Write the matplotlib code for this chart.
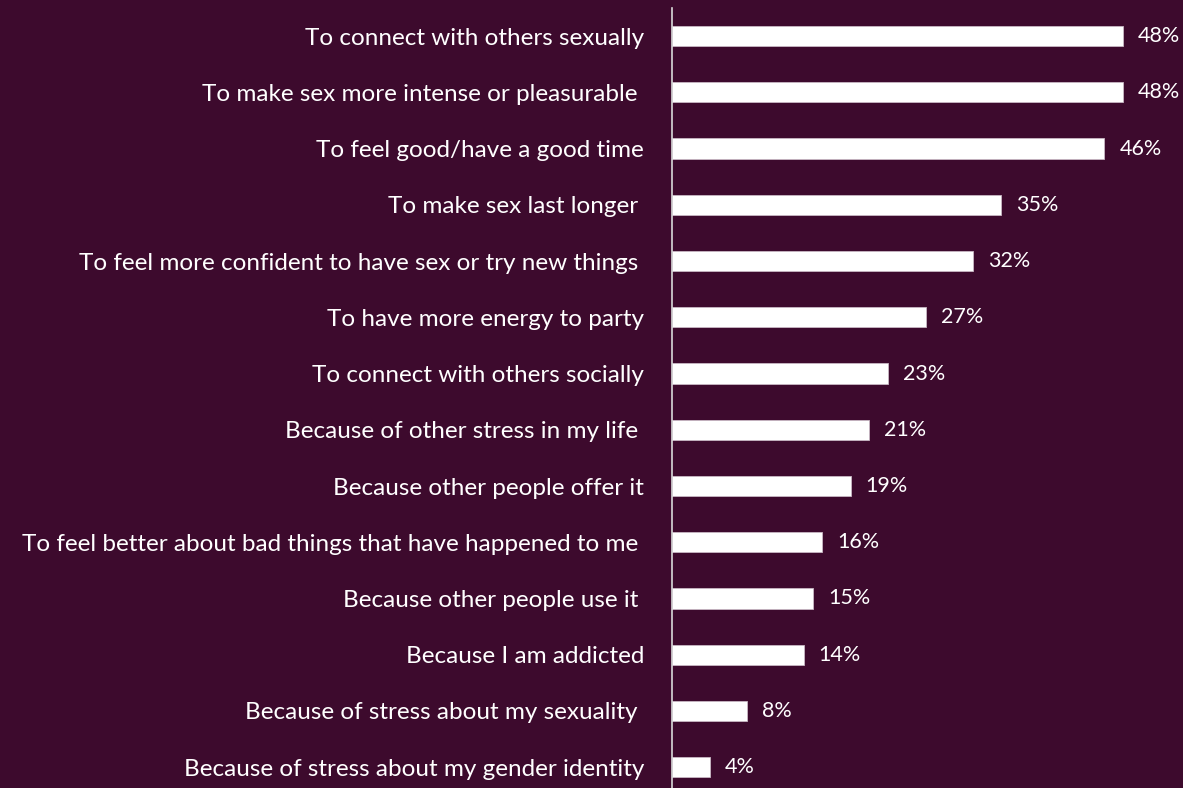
import matplotlib
matplotlib.use("Agg")
import matplotlib.pyplot as plt

reasons = [
    "To connect with others sexually",
    "To make sex more intense or pleasurable ",
    "To feel good/have a good time",
    "To make sex last longer ",
    "To feel more confident to have sex or try new things ",
    "To have more energy to party",
    "To connect with others socially",
    "Because of other stress in my life ",
    "Because other people offer it",
    "To feel better about bad things that have happened to me ",
    "Because other people use it ",
    "Because I am addicted",
    "Because of stress about my sexuality ",
    "Because of stress about my gender identity",
]
percent = [48, 48, 46, 35, 32, 27, 23, 21, 19, 16, 15, 14, 8, 4]

bg = "#3d0a2d"
plt.rcParams['font.family'] = ['Lato', 'DejaVu Sans']

fig = plt.figure(figsize=(11.83, 7.88), dpi=100, facecolor=bg)
W, H = 1183, 788
x0 = 672
px_per = 9.4
xmax = 51
ax = fig.add_axes([x0 / W, 0, xmax * px_per / W, 1 - 8 / H])
ax.set_facecolor(bg)

y = list(range(len(reasons)))
ax.barh(y, percent, height=0.36, color="white", edgecolor="#c8b8c4", linewidth=0.6)
for yi, v in zip(y, percent):
    ax.text(v + 1.6, yi, f"{v}%", color="white", va="center", ha="left", fontsize=15.5)

ax.set_xlim(0, xmax)
ax.set_ylim(13.37, -0.5)
ax.set_yticks(y)
ax.set_yticklabels(reasons, color="white", fontsize=17.5)
ax.tick_params(axis="y", length=0, pad=20)
ax.set_xticks([])
for s in ["top", "right", "bottom"]:
    ax.spines[s].set_visible(False)
ax.spines["left"].set_color("#d9d9d9")
ax.spines["left"].set_linewidth(1.2)

fig.savefig("out.png", dpi=100, facecolor=bg)
